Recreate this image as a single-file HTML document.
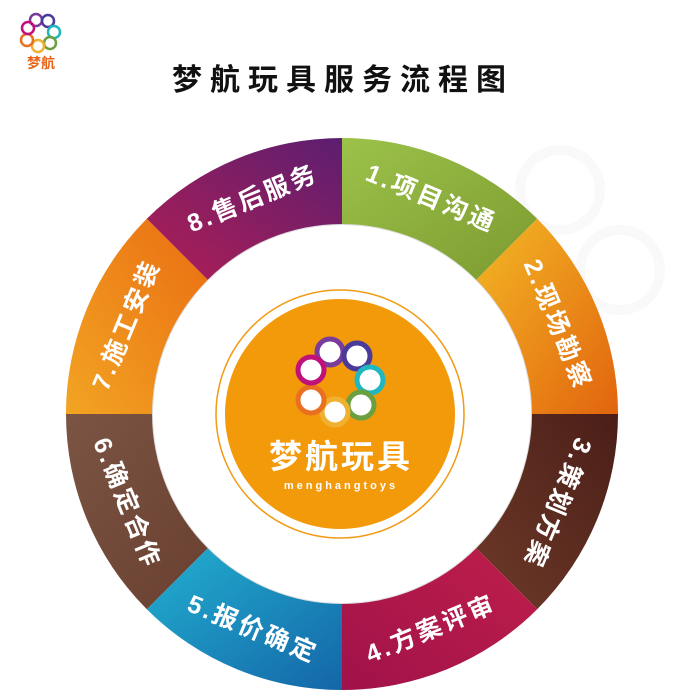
<!DOCTYPE html>
<html><head><meta charset="utf-8"><style>
html,body{margin:0;padding:0;background:#fff;width:677px;height:700px;overflow:hidden}
svg{display:block}
</style></head><body>
<svg width="677" height="700" viewBox="0 0 677 700" xmlns="http://www.w3.org/2000/svg">
<defs>
<linearGradient id="g1" x1="0" y1="0" x2="1" y2="1"><stop offset="0" stop-color="#9cc24a"/><stop offset="1" stop-color="#7d9a30"/></linearGradient>
<linearGradient id="g2" x1="0" y1="0" x2="1" y2="1"><stop offset="0" stop-color="#f3b825"/><stop offset="1" stop-color="#e2640e"/></linearGradient>
<linearGradient id="g3" x1="1" y1="0" x2="0" y2="1"><stop offset="0" stop-color="#4a1e18"/><stop offset="1" stop-color="#6e3a28"/></linearGradient>
<linearGradient id="g4" x1="1" y1="0" x2="0" y2="1"><stop offset="0" stop-color="#bf1e4a"/><stop offset="1" stop-color="#a0124a"/></linearGradient>
<linearGradient id="g5" x1="0" y1="0" x2="1" y2="1"><stop offset="0" stop-color="#22b0d0"/><stop offset="1" stop-color="#1466a8"/></linearGradient>
<linearGradient id="g6" x1="0" y1="0" x2="1" y2="1"><stop offset="0" stop-color="#7b5444"/><stop offset="1" stop-color="#6a4030"/></linearGradient>
<linearGradient id="g7" x1="0" y1="1" x2="1" y2="0"><stop offset="0" stop-color="#f2a423"/><stop offset="1" stop-color="#ea6d12"/></linearGradient>
<linearGradient id="g8" x1="0" y1="1" x2="1" y2="0"><stop offset="0" stop-color="#b01e55"/><stop offset="1" stop-color="#5c1e70"/></linearGradient>
<filter id="sh" x="-20%" y="-20%" width="140%" height="140%"><feGaussianBlur stdDeviation="4"/></filter>
</defs>
<g fill="none" stroke="#f9f9f9" stroke-width="10">
<circle cx="560" cy="190" r="40"/><circle cx="620" cy="270" r="40"/><circle cx="470" cy="260" r="50"/>
</g>
<g fill="none" stroke-width="2.5">
<circle cx="36" cy="20" r="6" stroke="#7a3c9a"/><circle cx="48" cy="21" r="6" stroke="#4a3a9a"/>
<circle cx="54" cy="32" r="6" stroke="#20b8c0"/><circle cx="50" cy="43" r="6" stroke="#6aa040"/>
<circle cx="38" cy="46" r="6" stroke="#f0b030"/><circle cx="27" cy="40" r="6" stroke="#e87020"/>
<circle cx="28" cy="28" r="6" stroke="#c0107a"/>
</g>
<text x="41" y="68" text-anchor="middle" font-family="'Liberation Sans','Noto Sans CJK SC',sans-serif" font-size="14" font-weight="bold" fill="#e8641a">梦航</text>
<text x="343" y="90" text-anchor="middle" font-family="'Liberation Sans','Noto Sans CJK SC',sans-serif" font-size="30" font-weight="bold" letter-spacing="8" fill="#111">梦航玩具服务流程图</text>
<circle cx="342" cy="414" r="190" fill="#000" opacity="0.25" filter="url(#sh)"/>
<path d="M342,138 A276,276 0 0 1 537.2,218.8 L476.3,279.7 A190,190 0 0 0 342,224 Z" fill="url(#g1)"/>
<path d="M537.2,218.8 A276,276 0 0 1 618,414 L532,414 A190,190 0 0 0 476.3,279.7 Z" fill="url(#g2)"/>
<path d="M618,414 A276,276 0 0 1 537.2,609.2 L476.3,548.3 A190,190 0 0 0 532,414 Z" fill="url(#g3)"/>
<path d="M537.2,609.2 A276,276 0 0 1 342,690 L342,604 A190,190 0 0 0 476.3,548.3 Z" fill="url(#g4)"/>
<path d="M342,690 A276,276 0 0 1 146.8,609.2 L207.7,548.3 A190,190 0 0 0 342,604 Z" fill="url(#g5)"/>
<path d="M146.8,609.2 A276,276 0 0 1 66,414 L152,414 A190,190 0 0 0 207.7,548.3 Z" fill="url(#g6)"/>
<path d="M66,414 A276,276 0 0 1 146.8,218.8 L207.7,279.7 A190,190 0 0 0 152,414 Z" fill="url(#g7)"/>
<path d="M146.8,218.8 A276,276 0 0 1 342,138 L342,224 A190,190 0 0 0 207.7,279.7 Z" fill="url(#g8)"/>
<circle cx="342" cy="414" r="189" fill="#fff"/>
<g font-family="'Liberation Sans','Noto Sans CJK SC',sans-serif" font-size="25" font-weight="bold" fill="#fff" text-anchor="middle" dominant-baseline="central" letter-spacing="3">
<text transform="translate(431.2,198.7) rotate(22.5)">1.项目沟通</text>
<text transform="translate(557.3,324.8) rotate(67.5)">2.现场勘察</text>
<text transform="translate(557.3,503.2) rotate(112.5)">3.策划方案</text>
<text transform="translate(431.2,629.3) rotate(-22.5)">4.方案评审</text>
<text transform="translate(252.8,629.3) rotate(22.5)">5.报价确定</text>
<text transform="translate(126.7,503.2) rotate(67.5)">6.确定合作</text>
<text transform="translate(126.7,324.8) rotate(-67.5)">7.施工安装</text>
<text transform="translate(252.8,198.7) rotate(-22.5)">8.售后服务</text>
</g>
<circle cx="340" cy="414" r="124" fill="none" stroke="#f29a12" stroke-width="1.5"/>
<circle cx="340" cy="414" r="115" fill="#f39a0b"/>
<g fill="#fff" stroke-width="5">
<circle cx="330" cy="352" r="13" stroke="#7a3c9a"/><circle cx="357" cy="356" r="13" stroke="#4a3a9a"/>
<circle cx="370" cy="380" r="13" stroke="#20b8c0"/><circle cx="361" cy="405" r="13" stroke="#6aa040"/>
<circle cx="335" cy="412" r="13" stroke="#f0b030"/><circle cx="311" cy="400" r="13" stroke="#e87020"/>
<circle cx="311" cy="370" r="13" stroke="#c0107a"/>
</g>
<text x="341" y="468" text-anchor="middle" font-family="'Liberation Sans','Noto Sans CJK SC',sans-serif" font-size="33" font-weight="bold" fill="#fff" letter-spacing="3">梦航玩具</text>
<text x="341" y="489" text-anchor="middle" font-family="'Liberation Sans',sans-serif" font-size="11" font-weight="bold" fill="#fff" letter-spacing="3">menghangtoys</text>
</svg>
</body></html>
